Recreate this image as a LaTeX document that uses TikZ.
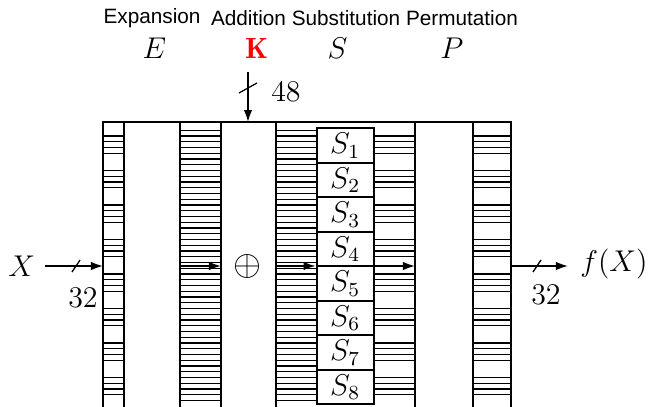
\documentclass[tikz,border=0pt]{standalone}
\usepackage{fontspec}
\setsansfont{Liberation Sans}
\usetikzlibrary{arrows.meta}
\begin{document}
\begin{tikzpicture}[x=0.4pt,y=-0.4pt,
  frame/.style={line width=0.8pt},
  hatch/.style={line width=0.5pt},
  sbox/.style={draw, line width=0.8pt, minimum width=22.8pt, minimum height=13.8pt, inner sep=0pt, anchor=north west},
  arr/.style={-{Latex[length=4.8pt,width=3.4pt]}, line width=0.7pt},
  slash/.style={line width=0.5pt},
  lab/.style={font=\sffamily\fontsize{8.3}{10}\selectfont, inner sep=0pt},
  mlab/.style={font=\fontsize{11.7}{14}\selectfont, inner sep=0pt}
]
\useasboundingbox (0,0) rectangle (649,407);
% hatch lines, 48-line columns
\foreach \j in {0,...,47}{
  \pgfmathsetmacro\yy{127.3+(\j+0.5)*5.75}
  \draw[hatch] (180,\yy) -- (221,\yy);
  \draw[hatch] (276,\yy) -- (315.7,\yy);
}
% hatch lines, 32-line columns
\foreach \k in {0,...,7}{
  \foreach \i in {1,...,4}{
    \pgfmathsetmacro\yy{127.3+34.5*\k+(\i+0.5)*5.75}
    \draw[hatch] (103,\yy) -- (124,\yy);
    \draw[hatch] (372.7,\yy) -- (415,\yy);
    \draw[hatch] (473,\yy) -- (511,\yy);
  }
}
% frame
\draw[frame] (103,410) -- (103,122) -- (511,122) -- (511,410);
\foreach \xx in {124,180,221,276,415,473}{
  \draw[frame] (\xx,122) -- (\xx,410);
}
% S-boxes
\foreach \k in {1,...,8}{
  \node[sbox, fill=white] (s\k) at (315.7,{127.3+34.5*(\k-1)}) {};
  \node[mlab] at (s\k.center) {$S_{\k}$};
}
% labels on top
\node[lab] (lexp) at (152,18) {Expansion};
\node[lab] (ladd) at (248.5,18) {Addition};
\node[lab] (lsub) at (346,18) {Substitution};
\node[lab] (lper) at (462,18) {Permutation};
\node[mlab] (lE) at (154.5,48) {$E$};
\node[mlab, text=red] (lK) at (256.5,48) {$\mathbf{K}$};
\node[mlab] (lS) at (337.5,48) {$S$};
\node[mlab] (lP) at (452,48) {$P$};
% key input
\coordinate (ktop) at (248,72);
\coordinate (kin) at (248,122);
\draw[arr] (ktop) -- (kin);
\draw[slash] (239,93) -- (257,83);
\node[mlab] (n48) at (286,92) {$48$};
% input
\node[mlab] (X) at (21.7,266) {$X$};
\coordinate (xin) at (103,266);
\draw[arr] (45,266) -- (xin);
\draw[slash] (72,272) -- (80,260);
\node[mlab] (n32a) at (83,298) {$32$};
% inner arrows
\coordinate (a1) at (180,266);
\coordinate (a2) at (221,266);
\coordinate (b1) at (276,266);
\coordinate (b2) at (315.7,266);
\coordinate (c1) at (372.7,266);
\coordinate (c2) at (415,266);
\draw[arr] (a1) -- (a2);
\draw[arr] (b1) -- (b2);
\draw[arr] (c1) -- (c2);
\node[mlab, font=\fontsize{14}{16}\selectfont] (xor) at (248,266) {$\oplus$};
% output
\coordinate (xout) at (511,266);
\coordinate (xend) at (568,266);
\draw[arr] (xout) -- (xend);
\draw[slash] (533,272) -- (541,260);
\node[mlab] (n32b) at (546,295) {$32$};
\node[mlab] (fX) at (614,264) {$f(X)$};
\end{tikzpicture}
\end{document}
